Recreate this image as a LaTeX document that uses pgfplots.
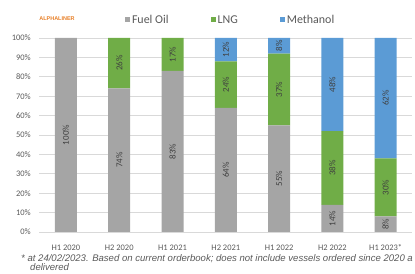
\documentclass[border=0pt]{standalone}
\usepackage{pgfplots}
\pgfplotsset{compat=1.18}
\usepackage{pgfplotstable}
\usepackage{fontspec}
\setmainfont{Carlito}
\newfontfamily\arialfont{Liberation Sans}
\definecolor{fo}{RGB}{165,165,165}
\definecolor{lng}{RGB}{112,173,71}
\definecolor{meth}{RGB}{91,155,213}
\definecolor{txt}{RGB}{89,89,89}
\definecolor{lab}{RGB}{64,64,64}
\definecolor{logo}{RGB}{232,128,40}
\definecolor{grid}{RGB}{217,217,217}
\pgfplotstableread{
x fo lng me
0 100 0 0
1 74 26 0
2 83 17 0
3 64 24 12
4 55 37 8
5 14 38 48
6 8 30 62
}\datatable
\begin{document}
\begin{tikzpicture}[x=1bp,y=1bp]
\useasboundingbox (0,0) rectangle (415,274);
\begin{axis}[
  at={(39.3bp,42bp)}, anchor=south west,
  scale only axis, width=373bp, height=194bp,
  ybar stacked, bar width=22bp,
  xmin=-0.5, xmax=6.5, ymin=0, ymax=100,
  xtick={0,...,6},
  xticklabels={H1 2020,H2 2020,H1 2021,H2 2021,H1 2022,H2 2022,H1 2023*},
  ytick={0,10,...,100},
  yticklabel={\pgfmathprintnumber{\tick}\%},
  /pgf/number format/assume math mode=true,
  ymajorgrids, grid style={draw=grid, line width=0.75bp},
  axis line style={draw=none},
  major tick style={draw=none},
  xticklabel style={font=\fontsize{8.5}{10}\selectfont, text=txt, yshift=-9bp},
  yticklabel style={font=\fontsize{8.5}{10}\selectfont, text=txt, xshift=-5bp},
  legend style={at={(0.513,1.093)}, anchor=center, draw=none, fill=none,
    legend columns=3, font=\fontsize{12}{14}\selectfont, text=txt,
    /tikz/every even column/.append style={column sep=40bp}},
  legend image code/.code={\fill[#1] (0bp,-2.5bp) rectangle (5bp,2.5bp);},
  point meta=explicit,
  nodes near coords={\pgfmathfloatifflags{\pgfplotspointmeta}{0}{}{\pgfmathprintnumber{\pgfplotspointmeta}\%}},
  every node near coord/.append style={font=\fontsize{9}{10}\selectfont, text=lab, anchor=center, rotate=90},
]
\addplot[fill=fo, draw=none] table[x=x, y=fo, meta=fo] {\datatable};
\addlegendentry{Fuel Oil}
\addplot[fill=lng, draw=none] table[x=x, y=lng, meta=lng] {\datatable};
\addlegendentry{LNG}
\addplot[fill=meth, draw=none] table[x=x, y=me, meta=me] {\datatable};
\addlegendentry{Methanol}
\end{axis}
\node[font=\arialfont\bfseries\fontsize{5.5}{6}\selectfont, text=logo, anchor=center] at (57,255) {ALPHALINER};
\node[font=\arialfont\itshape\fontsize{9.6}{11}\selectfont, text=txt, anchor=base west, inner sep=0] at (21,13) {* at 24/02/2023. Based on current orderbook; does not include vessels ordered since 2020 a};
\node[font=\arialfont\itshape\fontsize{9.6}{11}\selectfont, text=txt, anchor=base west, inner sep=0] at (30,4) {delivered};
\end{tikzpicture}
\end{document}
